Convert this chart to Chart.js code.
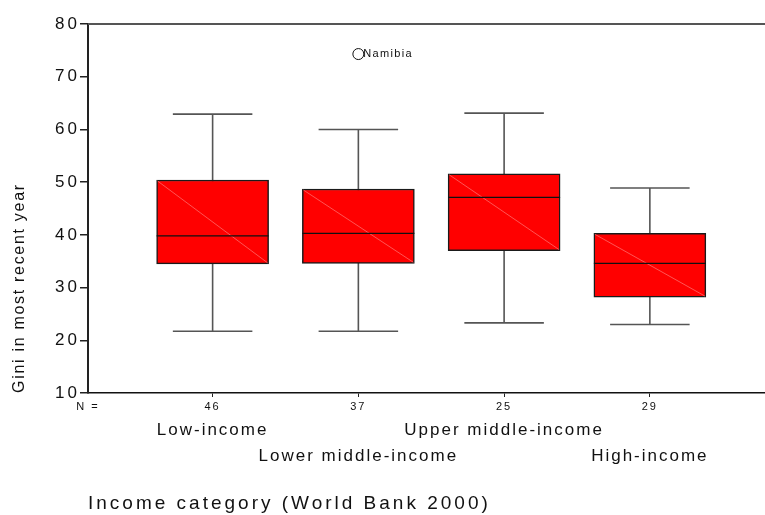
<!DOCTYPE html>
<html>
<head>
<meta charset="utf-8">
<script src="https://cdn.jsdelivr.net/npm/chart.js@4"></script>
<style>
  html, body { margin: 0; padding: 0; background: #fff; }
  #wrap { width: 765px; height: 515px; }
</style>
</head>
<body>
<div id="wrap"><canvas id="giniChart"></canvas></div>
<script>
// Valores (boxplot do Gini por categoria de renda)
const categories = ['Low-income', 'Lower middle-income', 'Upper middle-income', 'High-income'];
const counts = [46, 37, 25, 29];
const whiskerLow = [21.7, 21.7, 23.3, 23.0];
const q1 = [34.5, 34.6, 37.0, 28.2];
const medians = [39.8, 40.3, 47.1, 34.6];
const q3 = [50.4, 48.7, 51.6, 40.3];
const whiskerHigh = [62.9, 60.0, 63.1, 48.9];
const outlierCategory = [2];
const outlierValues = [74.3];
const outlierNames = ['Namibia'];
const yTicks = [10, 20, 30, 40, 50, 60, 70, 80];

const xMin = 0.145;
const xMax = 4.79;
const FONT = "'Liberation Sans', Arial, sans-serif";

// espaçamento de letras por eixo (o texto original é bem "largo")
function withSpacing(ls, titleLs, size) {
  return (s) => {
    if (size) { s.height = size.h || s.height; s.width = size.w || s.width; }
    if (s._lsPatched) return;
    s._lsPatched = true;
    const proto = Object.getPrototypeOf(s);
    s.draw = function (area) {
      const ctx = this.ctx;
      ctx.save();
      ctx.letterSpacing = ls;
      proto.draw.call(this, area);
      ctx.restore();
    };
    s.drawTitle = function () {
      const ctx = this.ctx;
      ctx.save();
      ctx.letterSpacing = titleLs;
      proto.drawTitle.call(this);
      ctx.restore();
    };
  };
}

// Bigodes, medianas e rótulos desenhados a partir das escalas
const boxPlugin = {
  id: 'boxPlugin',
  beforeDatasetsDraw(chart) {
    const { ctx, scales: { x, y } } = chart;
    const bars = chart.getDatasetMeta(0).data;
    ctx.save();
    ctx.strokeStyle = '#555';
    ctx.lineWidth = 1.6;
    categories.forEach((c, i) => {
      const px = x.getPixelForValue(i + 1);
      const half = bars[i].width * 0.355;
      const lo = y.getPixelForValue(whiskerLow[i]);
      const hi = y.getPixelForValue(whiskerHigh[i]);
      ctx.beginPath();
      ctx.moveTo(px, lo); ctx.lineTo(px, hi);
      ctx.moveTo(px - half, lo); ctx.lineTo(px + half, lo);
      ctx.moveTo(px - half, hi); ctx.lineTo(px + half, hi);
      ctx.stroke();
    });
    ctx.restore();
  },
  afterDatasetsDraw(chart) {
    const { ctx, scales: { x, y } } = chart;
    const bars = chart.getDatasetMeta(0).data;
    ctx.save();
    categories.forEach((c, i) => {
      const b = bars[i];
      const left = b.x - b.width / 2;
      const right = b.x + b.width / 2;
      const top = y.getPixelForValue(q3[i]);
      const bottom = y.getPixelForValue(q1[i]);
      // linha diagonal clara dentro da caixa
      ctx.strokeStyle = 'rgba(255,150,150,0.8)';
      ctx.lineWidth = 0.7;
      ctx.beginPath();
      ctx.moveTo(left + 1, top + 1);
      ctx.lineTo(right - 1, bottom - 1);
      ctx.stroke();
      // mediana
      const m = y.getPixelForValue(medians[i]);
      ctx.strokeStyle = '#111';
      ctx.lineWidth = 1.3;
      ctx.beginPath();
      ctx.moveTo(left, m);
      ctx.lineTo(right, m);
      ctx.stroke();
    });
    // rótulos dos outliers
    ctx.fillStyle = '#111';
    ctx.font = '11px ' + FONT;
    ctx.textAlign = 'left';
    ctx.textBaseline = 'middle';
    ctx.letterSpacing = '1.3px';
    outlierNames.forEach((name, i) => {
      ctx.fillText(name, x.getPixelForValue(outlierCategory[i]) + 5, y.getPixelForValue(outlierValues[i]));
    });
    ctx.restore();
  },
  afterDraw(chart) {
    const { ctx, chartArea } = chart;
    ctx.save();
    ctx.strokeStyle = '#555';
    ctx.lineWidth = 2;
    ctx.beginPath();
    ctx.moveTo(chartArea.left, chartArea.top);
    ctx.lineTo(chartArea.right, chartArea.top);
    ctx.stroke();
    ctx.restore();
  }
};

Chart.defaults.font.family = FONT;
Chart.defaults.color = '#111';

new Chart(document.getElementById('giniChart'), {
  type: 'bar',
  data: {
    datasets: [{
      type: 'bar',
      data: categories.map((c, i) => ({ x: i + 1, y: [q1[i], q3[i]] })),
      backgroundColor: '#ff0000',
      borderColor: '#1a1a1a',
      borderWidth: 1.5,
      borderSkipped: false,
      barThickness: 112,
      xAxisID: 'x',
      yAxisID: 'y'
    }, {
      type: 'scatter',
      data: outlierValues.map((v, i) => ({ x: outlierCategory[i], y: v })),
      pointRadius: 5.5,
      pointBackgroundColor: '#fff',
      pointBorderColor: '#111',
      pointBorderWidth: 1,
      xAxisID: 'x',
      yAxisID: 'y'
    }]
  },
  options: {
    responsive: true,
    maintainAspectRatio: false,
    animation: false,
    layout: { autoPadding: false, padding: { top: 24, right: 0, bottom: 0, left: 0 } },
    plugins: { legend: { display: false }, tooltip: { enabled: false } },
    scales: {
      x: {
        type: 'linear',
        position: 'bottom',
        offset: false,
        min: xMin,
        max: xMax,
        afterBuildTicks: (s) => { s.ticks = [xMin, 1, 2, 3, 4].map(v => ({ value: v })); },
        afterFit: withSpacing('2px', '0px', { h: 21 }),
        grid: {
          offset: false,
          drawOnChartArea: false,
          tickLength: 4,
          color: (c) => c.index === 0 ? 'rgba(0,0,0,0)' : '#222'
        },
        border: { color: '#111', width: 1.5 },
        ticks: {
          autoSkip: false,
          maxRotation: 0,
          padding: 3,
          font: { size: 11 },
          callback: (v, i) => i === 0 ? 'N =' : String(counts[i - 1])
        }
      },
      x2: {
        type: 'linear',
        position: 'bottom',
        offset: false,
        min: xMin,
        max: xMax,
        afterBuildTicks: (s) => { s.ticks = categories.map((c, i) => ({ value: i + 1 })); },
        afterFit: withSpacing('2px', '3px', { h: 101 }),
        grid: { display: false, drawTicks: false, offset: false },
        border: { display: false },
        ticks: {
          autoSkip: false,
          maxRotation: 0,
          padding: 3,
          font: { size: 17, lineHeight: 1.55 },
          callback: (v, i) => i % 2 === 0 ? [categories[i], ''] : ['', categories[i]]
        },
        title: {
          display: true,
          text: 'Income category (World Bank 2000)',
          align: 'start',
          font: { size: 19 },
          padding: 0
        }
      },
      y: {
        min: 10,
        max: 80,
        afterBuildTicks: (s) => { s.ticks = yTicks.map(v => ({ value: v })); },
        afterFit: withSpacing('3px', '1.7px', { w: 88 }),
        grid: { drawOnChartArea: false, tickLength: 8, color: '#222', lineWidth: 1.5 },
        border: { color: '#222', width: 2 },
        ticks: { font: { size: 17 }, padding: 0 },
        title: {
          display: true,
          text: 'Gini in most recent year',
          align: 'start',
          font: { size: 16 },
          padding: { top: 10, bottom: 0 }
        }
      }
    }
  },
  plugins: [boxPlugin]
});
</script>
</body>
</html>
